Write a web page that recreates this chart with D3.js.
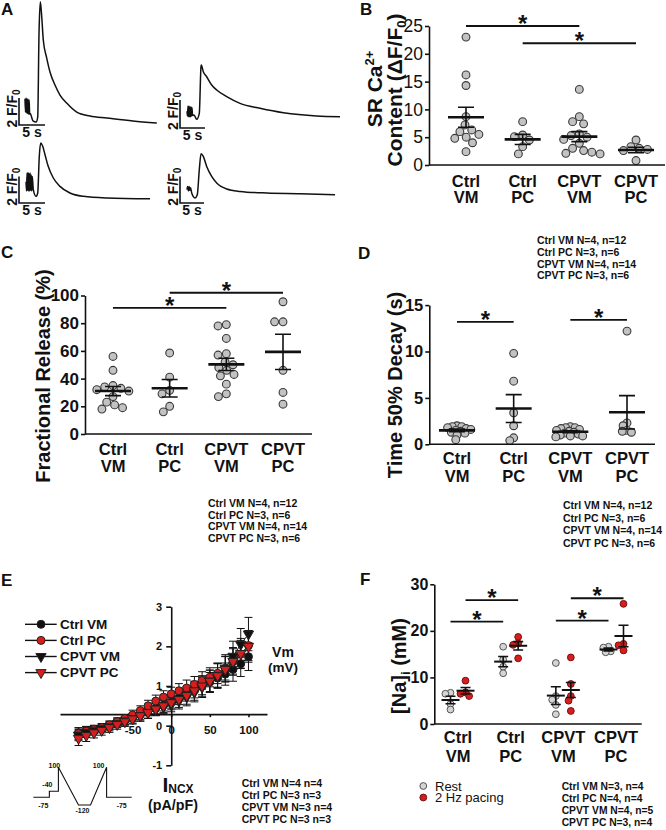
<!DOCTYPE html>
<html>
<head>
<meta charset="utf-8">
<script src="https://cdn.jsdelivr.net/npm/d3@7"></script>
<style>
  body { margin: 0; background: #fff; }
  svg { display: block; font-family: "Liberation Sans", Arial, sans-serif; }
</style>
</head>
<body>
<svg id="fig" width="666" height="830"></svg>
<script>
// ---------------- data ----------------
const groups = ["Ctrl VM", "Ctrl PC", "CPVT VM", "CPVT PC"];

// A: example caffeine transients, [time (s), F/F0 above scale-bar level]
const traceCtrlVM = [[1.15,1.95],[1.25,0.95],[1.35,2.0],[1.45,0.9],[1.55,1.95],[1.65,0.85],[1.75,1.9],[1.85,0.8],[1.95,1.85],[2.05,0.8],[2.15,0.85],[2.69,0.30],[3.27,0.22],[3.6,0.59],[3.85,6.81],[4.1,9.13],[4.37,8.02],[4.67,6.30],[5.33,4.96],[5.96,3.93],[6.92,2.96],[7.88,2.22],[9.17,1.63],[11.1,0.96],[13.65,0.67],[16.9,0.52],[21.9,0.30],[26.5,0.15]];
const traceCtrlPC = [[1.4,1.2],[1.5,0.85],[1.6,1.55],[1.7,0.8],[1.8,1.55],[1.9,0.8],[2.0,1.5],[2.1,0.8],[2.2,1.5],[2.3,0.85],[2.4,1.45],[2.5,0.9],[2.8,0.93],[3.34,0.62],[3.86,1.05],[4.2,4.38],[4.26,4.5],[4.66,4.02],[5.34,3.66],[6.34,3.07],[7.34,2.71],[9.34,2.24],[12,1.76],[16,1.41],[20.7,1.09],[27.3,0.86],[32,0.81]];
const traceCpvtVM = [[1.35,1.6],[1.45,0.9],[1.55,2.25],[1.65,0.95],[1.75,2.3],[1.85,0.9],[1.95,2.2],[2.05,0.9],[2.15,2.25],[2.25,0.95],[2.35,2.1],[2.45,0.9],[2.55,2.0],[2.75,1.0],[3.27,0.5],[3.6,0.75],[3.9,3.5],[4.17,4.51],[4.56,4.26],[5.0,3.63],[5.63,2.74],[6.6,1.88],[7.88,1.25],[9.8,0.75],[12.4,0.5],[16.9,0.38],[25.2,0.32]];
const traceCpvtPC = [[1.45,1.0],[1.6,1.25],[1.75,0.9],[1.9,1.25],[2.05,0.95],[2.2,1.15],[2.44,0.75],[3.13,0.38],[3.6,0.62],[4.02,2.5],[4.38,3.71],[4.85,3.5],[5.56,2.75],[6.6,2.0],[7.65,1.5],[9.73,1.05],[12.5,0.87],[18.1,0.75],[25,0.7],[32.3,0.62]];

// B: SR Ca2+ content (dF/F0)
const srContent = [
  [23.0, 16.2, 14.3, 8.7, 7.2, 6.3, 6.0, 5.5, 5.0, 4.8, 4.0, 2.4],
  [7.8, 5.4, 5.1, 4.5, 3.3, 2.0],
  [13.6, 8.7, 7.8, 7.4, 5.6, 5.3, 5.0, 4.6, 3.9, 3.0, 2.6, 2.3, 2.1, 2.0],
  [4.5, 3.3, 3.0, 2.8, 2.6, 0.8]
];
const srMean = [8.6, 4.6, 5.1, 2.7];
const srSem = [1.8, 0.9, 0.9, 0.5];
const srSig = [[0, 2, 25.0], [1, 3, 21.9]];

// C: fractional release (%)
const fracRelease = [
  [56, 46, 35, 34, 33, 32, 31, 27, 23, 21, 19, 18],
  [58.5, 41, 31.5, 29, 20, 16],
  [79, 78, 69, 58, 57, 52, 50, 48, 46, 43, 42, 36, 29, 27],
  [95.5, 81, 81, 46, 30, 21.5]
];
const frMean = [31, 33, 50.3, 59.3];
const frSem = [3.3, 6.3, 4.4, 12.7];
const frSig = [[0, 2, 91], [1, 3, 102]];

// D: time to 50% decay (s)
const decay50 = [
  [2.0, 1.9, 1.9, 1.8, 1.7, 1.6, 1.5, 1.4, 1.3, 1.2, 1.0, 0.5],
  [9.8, 6.8, 3.4, 2.0, 0.7, 0.4],
  [1.9, 1.8, 1.8, 1.7, 1.6, 1.5, 1.4, 1.3, 1.2, 1.1, 1.0, 0.9, 0.9, 0.8],
  [12.2, 2.3, 2.0, 1.5, 1.4, 1.3]
];
const dMean = [1.5, 3.85, 1.35, 3.45];
const dSem = [0.13, 1.5, 0.1, 1.8];
const dSig = [[0, 1, 13.2], [2, 3, 13.4]];

// E: NCX current-voltage relation (pA/pF)
const vmSteps = [-120,-110,-100,-90,-80,-70,-60,-50,-40,-30,-20,-10,0,10,20,30,40,50,60,70,80,90,100];
const ncxCtrlVM = [-0.18,-0.12,-0.09,-0.05,0.00,0.07,0.13,0.20,0.28,0.37,0.44,0.52,0.60,0.70,0.80,0.90,1.00,1.10,1.20,1.30,1.42,1.56,1.74];
const ncxCtrlPC = [-0.20,-0.14,-0.10,-0.05,0.02,0.10,0.18,0.27,0.38,0.50,0.62,0.72,0.80,0.88,0.95,1.04,1.14,1.22,1.32,1.45,1.62,1.80,2.02];
const ncxCpvtVM = [-0.24,-0.18,-0.13,-0.08,-0.03,0.05,0.12,0.18,0.25,0.33,0.40,0.47,0.53,0.62,0.72,0.84,0.97,1.12,1.27,1.45,1.75,2.05,2.31];
const ncxCpvtPC = [-0.32,-0.25,-0.18,-0.12,-0.05,0.03,0.10,0.17,0.25,0.33,0.42,0.50,0.58,0.66,0.76,0.88,1.00,1.12,1.26,1.42,1.62,1.82,2.00];
const semCtrlVM = [0.12,0.10,0.10,0.10,0.10,0.10,0.10,0.10,0.12,0.12,0.14,0.15,0.16,0.17,0.18,0.20,0.22,0.24,0.26,0.28,0.30,0.32,0.35];
const semCtrlPC = [0.15,0.12,0.10,0.10,0.10,0.10,0.10,0.12,0.12,0.14,0.15,0.16,0.17,0.18,0.20,0.20,0.22,0.24,0.26,0.30,0.32,0.35,0.38];
const semCpvtVM = [0.14,0.12,0.11,0.10,0.10,0.10,0.11,0.12,0.13,0.14,0.15,0.16,0.18,0.20,0.22,0.24,0.26,0.28,0.30,0.34,0.38,0.40,0.42];
const semCpvtPC = [0.18,0.15,0.13,0.12,0.12,0.12,0.12,0.13,0.14,0.15,0.16,0.17,0.18,0.20,0.22,0.24,0.26,0.28,0.30,0.32,0.35,0.38,0.40];
// voltage protocol inset (arbitrary time units, mV)
const protoT = [0, 16, 16, 25, 25, 45, 57, 73, 73, 98];
const protoV = [-75, -75, -40, -40, 100, -120, -120, 100, -75, -75];

// F: intracellular Na (mM)
const naRest = [[6.7, 6.5, 4.3, 3.1], [16.6, 13.8, 12.3, 10.9], [13.1, 6.0, 5.2, 4.1, 2.1], [16.6, 16.4, 15.6, 15.4]];
const naPaced = [[9.3, 6.8, 6.5, 6.0], [18.7, 17.3, 17.0, 14.1], [14.3, 8.6, 6.0, 5.0, 2.8], [25.8, 17.2, 16.9, 15.8]];
const naRestMean = [5.15, 13.4, 6.1, 16.0];
const naRestSem = [0.8, 1.1, 1.9, 0.3];
const naPacedMean = [7.15, 16.8, 7.3, 18.9];
const naPacedSem = [0.7, 0.9, 1.6, 2.3];
const naSig = [[0, 1, -1, 22.0], [0, 1, 1, 26.6], [2, 3, -1, 22.2], [2, 3, 1, 27.0]];

const notesC = ["Ctrl VM N=4, n=12", "Ctrl PC N=3, n=6", "CPVT VM N=4, n=14", "CPVT PC N=3, n=6"];
const notesD = ["Ctrl VM N=4, n=12", "Ctrl PC N=3, n=6", "CPVT VM N=4, n=14", "CPVT PC N=3, n=6"];
const notesE = ["Ctrl VM N=4 n=4", "Ctrl PC N=3 n=3", "CPVT VM N=3 n=4", "CPVT PC N=3 n=3"];
const notesF = ["Ctrl VM N=3, n=4", "Ctrl PC N=4, n=4", "CPVT VM N=4, n=5", "CPVT PC N=3, n=4"];

// ---------------- drawing ----------------
const svg = d3.select("#fig");
const INK = "#111";
const RED = "#d41f1e";
const GREY = "#c2c2c2";
const intFmt = d => String(d);   // plain hyphen-minus, as in the figure

function label(x, y, s, size, weight, anchor) {
  return svg.append("text").attr("x", x).attr("y", y)
    .attr("font-size", size).attr("font-weight", weight || "bold")
    .attr("text-anchor", anchor || "start").attr("fill", INK).text(s);
}

// rotated title; parts = [text, dy, fontSize]
function vLabel(cx, cy, size, parts) {
  const t = svg.append("text")
    .attr("transform", `translate(${cx + 0.35 * size},${cy}) rotate(-90)`)
    .attr("text-anchor", "middle").attr("font-size", size)
    .attr("font-weight", "bold").attr("fill", INK);
  parts.forEach(([s, dy, fs]) => {
    const sp = t.append("tspan").text(s);
    if (dy) sp.attr("dy", dy);
    if (fs) sp.attr("font-size", fs);
  });
  return t;
}

function styleAxis(ax, size, weight) {
  ax.attr("font-family", null).attr("font-size", null);
  ax.select(".domain").attr("stroke", INK).attr("stroke-width", 1.6);
  ax.selectAll(".tick line").attr("stroke", INK).attr("stroke-width", 1.6);
  ax.selectAll(".tick text").attr("fill", INK).attr("font-size", size).attr("font-weight", weight);
}

// simple beeswarm: smallest horizontal shift that avoids overlap (collision radius r)
function swarm(vals, y, r) {
  const placed = [];
  return vals.map(v => {
    const py = y(v);
    const cands = [0], blocks = [];
    placed.forEach(p => {
      const dy = Math.abs(p.y - py);
      if (dy < 2 * r) {
        const w = Math.sqrt(4 * r * r - dy * dy);
        blocks.push([p.dx - w, p.dx + w]);
        cands.push(p.dx - w, p.dx + w);
      }
    });
    cands.sort((a, b) => Math.abs(a) - Math.abs(b));
    const dx = cands.find(c => blocks.every(b => c <= b[0] + 1e-6 || c >= b[1] - 1e-6));
    placed.push({ y: py, dx });
    return dx;
  });
}

function meanSem(g, cx, y, m, s, mw, cw, lw) {
  g.append("path")
    .attr("d", `M${cx - cw / 2},${y(m + s)}H${cx + cw / 2}M${cx},${y(m + s)}V${y(m - s)}M${cx - cw / 2},${y(m - s)}H${cx + cw / 2}`)
    .attr("fill", "none").attr("stroke", INK).attr("stroke-width", 1.6);
  g.append("line").attr("x1", cx - mw / 2).attr("x2", cx + mw / 2)
    .attr("y1", y(m)).attr("y2", y(m)).attr("stroke", INK).attr("stroke-width", lw);
}

function sigBar(g, x1, x2, yy) {
  g.append("line").attr("x1", x1).attr("x2", x2).attr("y1", yy).attr("y2", yy)
    .attr("stroke", INK).attr("stroke-width", 1.8);
  g.append("text").attr("x", (x1 + x2) / 2).attr("y", yy + 6)
    .attr("text-anchor", "middle").attr("font-size", 24).attr("font-weight", "bold")
    .attr("fill", INK).text("*");
}

function catLabels(g, x, y0, gap, size) {
  groups.forEach(name => {
    const [a, b] = name.split(" ");
    g.append("text").attr("x", x(name)).attr("y", y0).attr("text-anchor", "middle")
      .attr("font-size", size).attr("font-weight", "bold").attr("fill", INK).text(a);
    g.append("text").attr("x", x(name)).attr("y", y0 + gap).attr("text-anchor", "middle")
      .attr("font-size", size).attr("font-weight", "bold").attr("fill", INK).text(b);
  });
}

function dotPanel(p) {
  const g = svg.append("g");
  const y = d3.scaleLinear().domain(p.domain).range([p.bottom, p.top]);
  const x = d3.scalePoint().domain(groups).range(p.xr);

  p.values.forEach((vals, i) => {
    const dx = swarm(vals, y, p.cr);
    g.append("g").selectAll("circle").data(vals).join("circle")
      .attr("cx", (d, j) => x(groups[i]) + dx[j]).attr("cy", d => y(d)).attr("r", p.r)
      .attr("fill", GREY).attr("stroke", "#3a3a3a").attr("stroke-width", 1.1);
  });
  groups.forEach((name, i) => meanSem(g, x(name), y, p.means[i], p.sems[i], 36, 16, 2.6));
  p.sig.forEach(s => sigBar(g, x(groups[s[0]]), x(groups[s[1]]), y(s[2])));
  catLabels(g, x, p.labY, p.labGap, p.labSize);

  g.append("line").attr("x1", p.left).attr("x2", p.right).attr("y1", y(0)).attr("y2", y(0))
    .attr("stroke", INK).attr("stroke-width", 1.6);
  const ax = g.append("g").attr("transform", `translate(${p.left},0)`)
    .call(d3.axisLeft(y).tickValues(p.ticks).tickFormat(intFmt).tickSize(4).tickSizeOuter(0).tickPadding(2));
  styleAxis(ax, p.tickSize, p.tickWeight);
}

// panel letters
[["A", 1, 15], ["B", 360, 15], ["C", 1, 258], ["D", 358, 259], ["E", 1, 586], ["F", 360, 585]]
  .forEach(([s, x, y]) => label(x, y, s, 17));

// ---- A ----
const traceLayout = [
  { data: traceCtrlVM, ox: 19, oy: 125, sx: 5.2, sy: 13.5 },
  { data: traceCtrlPC, ox: 180, oy: 128, sx: 5.0, sy: 14 },
  { data: traceCpvtVM, ox: 19, oy: 203, sx: 5.2, sy: 13.3 },
  { data: traceCpvtPC, ox: 180, oy: 203, sx: 4.8, sy: 13.3 }
];
traceLayout.forEach(t => {
  const x = d3.scaleLinear().domain([0, 1]).range([t.ox, t.ox + t.sx]);
  const y = d3.scaleLinear().domain([0, 1]).range([t.oy, t.oy - t.sy]);
  svg.append("path").datum(t.data)
    .attr("d", d3.line().x(d => x(d[0])).y(d => y(d[1])).curve(d3.curveMonotoneX))
    .attr("fill", "none").attr("stroke", INK).attr("stroke-width", 1.5);
  svg.append("path").attr("d", `M${x(0)},${y(2)}V${y(0)}H${x(5)}`)
    .attr("fill", "none").attr("stroke", INK).attr("stroke-width", 1.6);
  vLabel(x(0) - 7, (y(0) + y(2)) / 2 - 3, 14, [["2 F/F"], ["0", 3, 10]]);
  label((x(0) + x(5)) / 2, y(0) + 12, "5 s", 14, "bold", "middle");
});

// ---- B ----
dotPanel({
  left: 429, right: 665, top: 26, bottom: 165, domain: [0, 25], ticks: [0, 5, 10, 15, 20, 25],
  tickSize: 17.5, tickWeight: "normal", xr: [466, 636], r: 3.9, cr: 4.2,
  values: srContent, means: srMean, sems: srSem, sig: srSig,
  labY: 186.5, labGap: 16, labSize: 16.5
});
vLabel(375, 89, 21, [["SR Ca"], ["2+", -8, 13]]);
vLabel(395, 90, 21, [["Content (ΔF/F"], ["0", 4, 13], [")", -4, 21]]);

// ---- C ----
dotPanel({
  left: 85, right: 312, top: 295.5, bottom: 434, domain: [0, 100], ticks: [0, 20, 40, 60, 80, 100],
  tickSize: 17, tickWeight: "bold", xr: [113, 283], r: 3.9, cr: 4.2,
  values: fracRelease, means: frMean, sems: frSem, sig: frSig,
  labY: 455, labGap: 17, labSize: 16.5
});
vLabel(42.5, 376, 20, [["Fractional Release (%)"]]);
notesC.forEach((s, i) => label(208, 507.3 + i * 11.5, s, 10.5));

// ---- D ----
dotPanel({
  left: 429.3, right: 655, top: 305.1, bottom: 444.3, domain: [0, 15], ticks: [0, 5, 10, 15],
  tickSize: 16.5, tickWeight: "bold", xr: [457, 627], r: 3.9, cr: 2.4,
  values: decay50, means: dMean, sems: dSem, sig: dSig,
  labY: 463.5, labGap: 18, labSize: 16.5
});
vLabel(394.5, 385, 20, [["Time 50% Decay (s)"]]);
notesD.forEach((s, i) => label(537, 244.3 + i * 11.7, s, 10.5));
notesD.forEach((s, i) => label(563, 509.3 + i * 12.4, s, 10.5));

// ---- E ----
{
  const g = svg.append("g");
  const x = d3.scaleLinear().domain([-144, 124]).range([60, 267]);
  const y = d3.scaleLinear().domain([-1, 3]).range([765.3, 606.7]);
  const xAxisAt = 0.29;
  const ay = g.append("g").attr("transform", `translate(${x(0)},0)`)
    .call(d3.axisLeft(y).tickValues([-1, 0, 1, 2, 3]).tickFormat(intFmt).tickSize(5).tickSizeOuter(0).tickPadding(4));
  styleAxis(ay, 11, "bold");
  const axx = g.append("g").attr("transform", `translate(0,${y(xAxisAt)})`)
    .call(d3.axisBottom(x).tickValues([-50, 0, 50, 100]).tickFormat(intFmt).tickSize(3).tickSizeOuter(0).tickPadding(9));
  styleAxis(axx, 11.5, "bold");

  const series = [
    { vals: ncxCtrlVM, sem: semCtrlVM, fill: INK, tri: false },
    { vals: ncxCtrlPC, sem: semCtrlPC, fill: RED, tri: false },
    { vals: ncxCpvtVM, sem: semCpvtVM, fill: INK, tri: true },
    { vals: ncxCpvtPC, sem: semCpvtPC, fill: RED, tri: true }
  ];
  const tri = d3.symbol().type(d3.symbolTriangle).size(46);
  const marker = (sel, s) => {
    if (s.tri) sel.append("path").attr("d", tri).attr("transform", "rotate(180)");
    else sel.append("circle").attr("r", 4);
    sel.selectAll("path,circle").attr("fill", s.fill).attr("stroke", "#222").attr("stroke-width", 1);
  };
  series.forEach(s => {
    g.append("path").datum(vmSteps)
      .attr("d", d3.line().x(v => x(v)).y((v, i) => y(s.vals[i])))
      .attr("fill", "none").attr("stroke", INK).attr("stroke-width", 1);
    g.append("g").selectAll("path").data(vmSteps).join("path")
      .attr("d", (v, i) => {
        const cx = x(v), hi = y(s.vals[i] + s.sem[i]), lo = y(s.vals[i] - s.sem[i]);
        return `M${cx - 4},${hi}H${cx + 4}M${cx},${hi}V${lo}M${cx - 4},${lo}H${cx + 4}`;
      })
      .attr("fill", "none").attr("stroke", INK).attr("stroke-width", 1);
  });
  series.forEach(s => {
    g.append("g").selectAll("g").data(vmSteps).join("g")
      .attr("transform", (v, i) => `translate(${x(v)},${y(s.vals[i])})`)
      .each(function () { marker(d3.select(this), s); });
  });

  // legend
  ["Ctrl VM", "Ctrl PC", "CPVT VM", "CPVT PC"].forEach((name, i) => {
    const ly = 624.3 + i * 16.1;
    g.append("line").attr("x1", 25).attr("x2", 56.7).attr("y1", ly).attr("y2", ly)
      .attr("stroke", INK).attr("stroke-width", 1.4);
    marker(g.append("g").attr("transform", `translate(41,${ly})`), series[i]);
    g.append("text").attr("x", 60).attr("y", ly).attr("dy", "0.35em").attr("font-size", 13.5)
      .attr("font-weight", "bold").attr("fill", INK).text(name);
  });

  label(283, 656.7, "Vm", 14, "bold", "middle");
  label(283, 671.7, "(mV)", 13.5, "bold", "middle");
  const inc = svg.append("text").attr("x", 178).attr("y", 792).attr("text-anchor", "middle")
    .attr("font-weight", "bold").attr("fill", INK);
  inc.append("tspan").attr("font-size", 21).text("I");
  inc.append("tspan").attr("font-size", 12).attr("dy", 1).text("NCX");
  label(173, 810, "(pA/pF)", 14.3, "bold", "middle");

  // protocol inset
  const px = d3.scaleLinear().domain([0, 98]).range([33.3, 131.7]);
  const pv = d3.scaleLinear().domain([-120, 100]).range([805, 767.3]);
  g.append("path").datum(protoT)
    .attr("d", d3.line().x(t => px(t)).y((t, i) => pv(protoV[i])))
    .attr("fill", "none").attr("stroke", INK).attr("stroke-width", 1.1);
  const small = (t, v, s, dx, dy) => label(px(t) + dx, pv(v) + dy, s, 7, "bold", "middle");
  small(protoT[4], protoV[4], "100", -4, 1);
  small(protoT[2], protoV[2], "-40", -2, -4);
  small(protoT[0], protoV[0], "-75", 10, 11);
  small(protoT[5], protoV[5], "-120", 4, 8);
  small(protoT[7], protoV[7], "100", -8, 1);
  small(protoT[9], protoV[9], "-75", -10, 11);

  notesE.forEach((s, i) => label(241.7, 787 + i * 12, s, 10.5));
}

// ---- F ----
{
  const g = svg.append("g");
  const y = d3.scaleLinear().domain([0, 30]).range([724, 584.3]);
  const x = d3.scalePoint().domain(groups).range([458, 616]);
  const off = 7.5;

  const sets = [
    { vals: naRest, means: naRestMean, sems: naRestSem, side: -1, fill: "#d4d4d4", stroke: "#555" },
    { vals: naPaced, means: naPacedMean, sems: naPacedSem, side: 1, fill: RED, stroke: "#7a1010" }
  ];
  sets.forEach(s => {
    s.vals.forEach((vals, i) => {
      const dx = swarm(vals, y, 2.6);
      g.append("g").selectAll("circle").data(vals).join("circle")
        .attr("cx", (d, j) => x(groups[i]) + s.side * off + dx[j]).attr("cy", d => y(d)).attr("r", 3.4)
        .attr("fill", s.fill).attr("stroke", s.stroke).attr("stroke-width", 1);
    });
  });
  sets.forEach(s => groups.forEach((name, i) =>
    meanSem(g, x(name) + s.side * off, y, s.means[i], s.sems[i], 18, 10, 2)));
  naSig.forEach(([a, b, side, v]) => sigBar(g, x(groups[a]) + side * off, x(groups[b]) + side * off, y(v)));
  catLabels(g, x, 743, 18.5, 16.5);

  g.append("line").attr("x1", 434.3).attr("x2", 641.7).attr("y1", y(0)).attr("y2", y(0))
    .attr("stroke", INK).attr("stroke-width", 1.6);
  const ax = g.append("g").attr("transform", "translate(434.3,0)")
    .call(d3.axisLeft(y).tickValues([0, 10, 20, 30]).tickFormat(intFmt).tickSize(4).tickSizeOuter(0).tickPadding(2));
  styleAxis(ax, 16, "bold");
  vLabel(399, 666, 20, [["[Na]"], ["i", 4, 13], [" (mM)", -4, 20]]);

  // legend
  g.append("circle").attr("cx", 423.3).attr("cy", 786).attr("r", 3.4)
    .attr("fill", "#d4d4d4").attr("stroke", "#555");
  g.append("circle").attr("cx", 423.3).attr("cy", 797.5).attr("r", 3.4)
    .attr("fill", RED).attr("stroke", "#7a1010");
  label(435, 790.5, "Rest", 13, "normal");
  label(435, 802, "2 Hz pacing", 13, "normal");

  notesF.forEach((s, i) => label(561.7, 790 + i * 12, s, 10.3));
}
</script>
</body>
</html>
